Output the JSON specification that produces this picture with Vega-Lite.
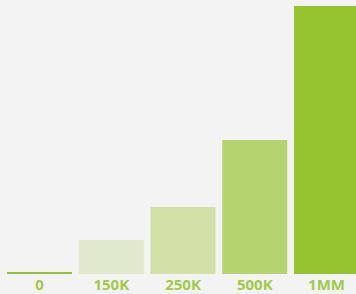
{
  "$schema": "https://vega.github.io/schema/vega-lite/v6.json",
  "width": 356,
  "height": 268,
  "autosize": "none",
  "padding": {"top": 6, "left": 0, "right": 0, "bottom": 20},
  "background": "#f3f3f3",
  "config": {"view": {"stroke": null}},
  "data": {"values": [
    {"label": "0", "value": 7.5},
    {"label": "150K", "value": 127},
    {"label": "250K", "value": 250},
    {"label": "500K", "value": 500},
    {"label": "1MM", "value": 1000}
  ]},
  "mark": {"type": "bar"},
  "encoding": {
    "x": {"field": "label", "type": "nominal", "sort": null,
      "scale": {"range": [0, 366], "paddingInner": 0.094, "paddingOuter": 0.0976},
      "axis": {"title": null, "domain": false, "ticks": false, "labelAngle": 0,
        "labelFont": "Open Sans", "labelFontSize": 15, "labelFontWeight": "bold",
        "labelColor": "#a2c94a", "labelPadding": 3, "labelBaseline": "top"}},
    "y": {"field": "value", "type": "quantitative",
      "scale": {"domain": [0, 1000], "nice": false}, "axis": null},
    "color": {"field": "label", "type": "nominal", "legend": null,
      "scale": {"domain": ["0", "150K", "250K", "500K", "1MM"],
        "range": ["#96c431", "#e1e9cd", "#d0e0a7", "#b5d46f", "#96c431"]}}
  }
}
